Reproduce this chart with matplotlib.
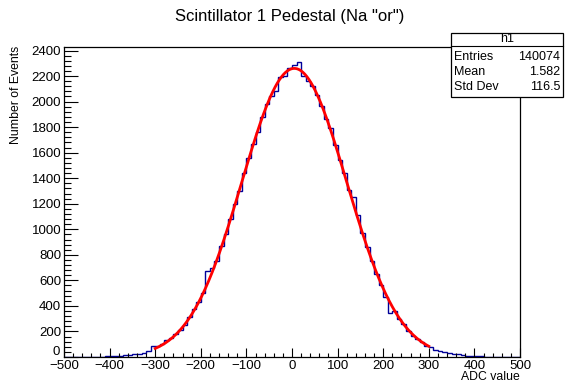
import numpy as np
import matplotlib
matplotlib.use('Agg')
import matplotlib.pyplot as plt
from matplotlib.patches import Rectangle
from matplotlib.ticker import MultipleLocator, FuncFormatter

plt.rcParams['font.family'] = ['Liberation Sans', 'DejaVu Sans']

# histogram: 100 bins of 10 ADC counts from -500 to 500
bin_edges = np.linspace(-500, 500, 101)
counts = [0, 0, 0, 0, 0, 1, 1, 2, 2, 4,
          5, 6, 9, 12, 17, 22, 27, 35, 50, 88,
          84, 100, 130, 148, 178, 212, 250, 310, 372, 430,
          505, 670, 700, 755, 870, 965, 1080, 1200, 1300, 1440,
          1560, 1665, 1760, 1880, 1985, 2040, 2080, 2190, 2200, 2265,
          2285, 2312, 2200, 2165, 2120, 2050, 1965, 1860, 1790, 1660,
          1545, 1440, 1310, 1255, 1110, 970, 860, 755, 650, 560,
          470, 345, 360, 300, 255, 205, 165, 140, 115, 90,
          80, 58, 45, 36, 30, 24, 20, 14, 10, 9,
          6, 5, 3, 3, 2, 1, 1, 0, 1, 0]

# gaussian fit (range -300..300)
fit_const = 2260
fit_mean = 5
fit_sigma = 115
fit_range = (-300, 300)

stats_name = 'h1'
stats_rows = [('Entries', '140074'), ('Mean', '1.582'), ('Std Dev', '116.5')]

fig = plt.figure(figsize=(5.67, 3.85), dpi=100)
ax = fig.add_axes([64/567, 28/385, 456/567, 310/385])

ax.stairs(counts, bin_edges, color='#000099', lw=1)
xf = np.linspace(fit_range[0], fit_range[1], 400)
ax.plot(xf, fit_const*np.exp(-0.5*((xf - fit_mean)/fit_sigma)**2), color='#ff0000', lw=2)

ax.set_xlim(-500, 500)
ax.set_ylim(0, max(counts)*1.05)
ax.xaxis.set_major_locator(MultipleLocator(100))
ax.xaxis.set_minor_locator(MultipleLocator(20))
ax.yaxis.set_major_locator(MultipleLocator(200))
ax.yaxis.set_minor_locator(MultipleLocator(40))
# y "0" is drawn a little higher by hand, like ROOT does
ax.yaxis.set_major_formatter(FuncFormatter(lambda v, p: '' if v == 0 else '%d' % v))
ax.tick_params(axis='x', which='major', direction='in', length=6.5, width=0.8, labelsize=9.5, pad=2)
ax.tick_params(axis='x', which='minor', direction='in', length=3.2, width=0.8)
ax.tick_params(axis='y', which='major', direction='in', length=10, width=0.8, labelsize=9.5, pad=2)
ax.tick_params(axis='y', which='minor', direction='in', length=5, width=0.8)
for s in ax.spines.values():
    s.set_linewidth(0.9)

fig.text(60/567, 1 - 352/385, '0', ha='right', va='center', fontsize=9.5)
fig.text(290/567, 1 - 16/385, 'Scintillator 1 Pedestal (Na "or")', ha='center', va='center', fontsize=12)
fig.text(16/567, 1 - 46/385, 'Number of Events', rotation=90, ha='center', va='top', fontsize=8.8)
fig.text(520/567, 1 - 377/385, 'ADC value', ha='right', va='center', fontsize=8.8)

# stats box
bx0, bx1, by0, by1 = 451, 563, 33, 97
fig.patches.append(Rectangle((bx0/567, 1 - by1/385), (bx1 - bx0)/567, (by1 - by0)/385,
                             transform=fig.transFigure, facecolor='white', edgecolor='black', lw=0.9))
fig.add_artist(plt.Line2D([bx0/567, bx1/567], [1 - 46/385, 1 - 46/385], transform=fig.transFigure,
                          color='black', lw=0.8))
fig.text((bx0 + bx1)/2/567, 1 - 39.5/385, stats_name, ha='center', va='center', fontsize=9)
for i, (k, v) in enumerate(stats_rows):
    y = 1 - (57 + 15*i)/385
    fig.text((bx0 + 3)/567, y, k, ha='left', va='center', fontsize=9)
    fig.text((bx1 - 3)/567, y, v, ha='right', va='center', fontsize=9)

fig.savefig('out.png', dpi=100)
